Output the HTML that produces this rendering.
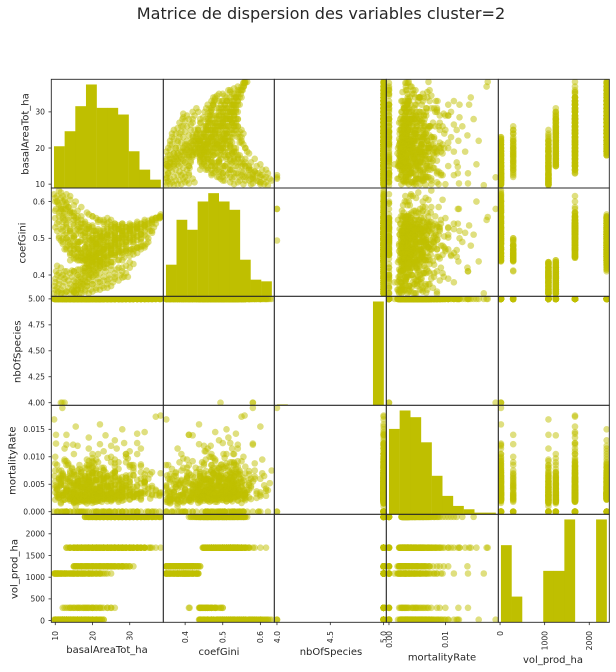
<!DOCTYPE html>
<html lang="fr">
<head>
<meta charset="utf-8">
<title>Matrice de dispersion</title>
<style>
html,body{margin:0;padding:0;background:#fff;}
svg{display:block;font-family:"DejaVu Sans","Liberation Sans",sans-serif;}
text{fill:#262626;}
</style>
</head>
<body>
<svg id="chart" width="616" height="672" viewBox="0 0 616 672" xmlns="http://www.w3.org/2000/svg">
<text x="321" y="19" font-size="16.1" text-anchor="middle">Matrice de dispersion des variables cluster=2</text>
<text x="107" y="653" font-size="10" text-anchor="middle">basalAreaTot_ha</text>
<text x="219" y="655" font-size="10" text-anchor="middle">coefGini</text>
<text x="331" y="655" font-size="10" text-anchor="middle">nbOfSpecies</text>
<text x="442" y="660.5" font-size="10" text-anchor="middle">mortalityRate</text>
<text x="553" y="663" font-size="10" text-anchor="middle">vol_prod_ha</text>
<text transform="translate(28.5 134) rotate(-90)" font-size="10" text-anchor="middle">basalAreaTot_ha</text>
<text transform="translate(25.5 243) rotate(-90)" font-size="10" text-anchor="middle">coefGini</text>
<text transform="translate(20.5 351.7) rotate(-90)" font-size="10" text-anchor="middle">nbOfSpecies</text>
<text transform="translate(15.5 460.7) rotate(-90)" font-size="10" text-anchor="middle">mortalityRate</text>
<text transform="translate(17.5 569) rotate(-90)" font-size="10" text-anchor="middle">vol_prod_ha</text>
</svg>
<script>
// ---- observations (each line holds ten rows, aligned across the five columns) ----
const basalAreaTot = [
9.65,10.5,11.5,12.5,13.5,14.5,15.5,17,18.5,20,
10,10.8,11.6,12.4,13.5,14.8,16,17.5,19,21,
10.2,11,12,13,14,15.5,17,18.5,20,22,
10,11,12,13,14.5,16,17.5,19,21,23,
11,11.5,12,12.5,13,13.5,14,15,16.5,18,
11.9,12.5,11.5,12,13,14,15,16,17,18.5,
10,10.5,11,12,13,14.5,16,18,20,22,
12,13.5,15,16,17,18,19,20,21,22,
13,14.5,16,17.5,18.5,20,22,24,25,26,
9.8,10.5,11.5,13,14.5,16,17.5,19,21,23,
10,11,12.5,14,15.5,17,19,20.5,22,25,
10.2,11,12,13,14.5,16,17.5,19,21,22.5,
9.7,10.5,11.5,12.5,14,15,16,17,18.5,20,
15,16.5,18,19.5,21,22.5,24,25.5,27,28.5,
15.5,17,18.5,20,21.5,23,24.5,26,28,30,
16,17.5,19,20.5,22,23.5,25,27,29,31,
15,16,17,18.5,20,22,24,26,28,29.5,
17,19,21,23,25,27,29,31,32.5,34,
14,16,18.5,21,23.5,26,28.5,31,33,35.5,
20,22.5,25,27.5,30,32,34,35.5,37,38.3,
13,15,17,19,21,23,25,27,29,30.5,
14,15.5,17,18.5,20,21.5,23,25,26.5,28,
13,14,15,16,17.5,19,20.5,22,24,26,
16,17.5,19,20.5,22,24,26,28,30,32,
24,25,26,27,28,29,30,31,32,33,
15,16.5,18,20,22,24,26,28,30,33,
18,19.5,21,23,25,27,28.5,30,31,32,
18.5,20,22,24,26,28,30,32,33,34.5,
19,21,23,25,27,29,31,33,34.5,36,
19,21,23,25,27,29,31,33,35,36.5,
20,22,24,26,28,30,32,34,36,38,
21,23,25,27,29,31,33,35,37,38.3,
24,26,28,30,32,34,36,37,38,38.3,
22,23,24.5,26,27.5,29,30.5,32,33.5,35,
18.5,19.5,20.5,21.5,23,24.5,26,27.5,29,31,
10.5,11.5,12.5,13.5,15,16.5,18,19.5,21,22.5,
10,11,12,13,14,15,16.5,18,19.5,21,
12,13,14,15,16,17,18,19,20,21.5,
10.5,11.5,12.5,13.5,14.5,16,17.5,19,20.5,22,
13,14,15,16,17,18,19,20,21,22.5,
10,10.5,11,11.5,12,12.5,13,14,15,16,
11,12,13,14,15.5,17,18.5,20,21.5,23,
12.5,14,15.5,16.5,17.5,18.5,19.5,20.5,21.5,23,
14,15,16.5,18,19,20,21,22.5,24,25,
10,11,12,13.5,15,16.5,18,19.5,21.5,23.5,
10.5,11.5,12.5,13.5,15,16.5,18,20,22,24,
10,10.8,11.8,13,14.5,15.5,17,18,19.5,21,
10.5,11.5,12.5,14,15,16,17.5,19,20,22,
15.5,17,18.5,20,21.5,23,24.5,26,27.5,29,
16,17.5,19,20.5,22,23.5,25,26.5,28,30,
15,16.5,18,19.5,21,22.5,24,25.5,27,28,
15.5,17,18,19,20,21,22,23,24,25,
15,17,19,21,23,25,27,29,31,33,
16,18,20,22,24,26,28,30,32,34,
14,15.5,17,18.5,20,21.5,23,24.5,26,28,
15,16,17,18,19,20,21.5,23,24.5,26,
19,20,21,22,23,24,25,26,27,28,
18,19.5,21,22.5,24,25.5,27,28.5,30,32,
20,21.5,23,24.5,26,27.5,29,30.5,32,34,
27,28,29,30,31,32,33,34,35,36,
13.5,15,16.5,18,19.5,21,22.5,24,25.5,27,
18,19,20.5,22,24,26,28,29.5,31,33,
18,19.5,21,23,25,27,29,31,33,35,
19,20.5,22,24,26,28,30,32,34,36,
20,21.5,23,25,27,29,31,33,35,37,
21,22.5,24,26,28,30,32,34,36,38,
22,24,26,28,30,32,34,36,37,38,
19,20,21,22,23,24,25,26,27,28,
25,26,27,28,29,30,31,32,33,34,
20,21,22,23,24,25,26,27,28,29
];
const coefGini = [
.62,.615,.61,.60,.585,.57,.555,.54,.525,.51,
.60,.595,.585,.57,.555,.54,.525,.51,.50,.485,
.58,.57,.555,.54,.525,.51,.495,.485,.475,.47,
.555,.545,.53,.515,.50,.485,.47,.46,.455,.45,
.63,.625,.615,.605,.595,.585,.57,.55,.53,.515,
.58,.58,.494,.52,.50,.485,.47,.46,.45,.445,
.53,.52,.505,.49,.475,.46,.45,.44,.44,.437,
.50,.49,.48,.47,.46,.455,.45,.445,.44,.437,
.41,.412,.44,.445,.45,.455,.46,.465,.47,.48,
.37,.365,.36,.355,.358,.365,.375,.39,.405,.42,
.39,.385,.38,.375,.38,.39,.40,.41,.42,.435,
.41,.405,.40,.395,.395,.40,.41,.42,.43,.435,
.35,.349,.35,.35,.349,.352,.36,.37,.38,.395,
.355,.35,.355,.36,.365,.37,.375,.38,.385,.395,
.37,.375,.38,.385,.39,.395,.40,.405,.41,.42,
.40,.405,.41,.415,.42,.42,.425,.42,.425,.43,
.355,.36,.365,.37,.375,.38,.385,.39,.393,.395,
.447,.45,.452,.455,.458,.462,.466,.47,.475,.48,
.47,.475,.48,.485,.49,.495,.50,.505,.512,.52,
.50,.505,.51,.515,.52,.528,.535,.542,.55,.558,
.50,.505,.51,.515,.52,.525,.525,.53,.53,.535,
.615,.60,.585,.57,.56,.55,.54,.53,.525,.52,
.58,.57,.56,.55,.54,.53,.52,.51,.505,.50,
.535,.53,.525,.52,.515,.51,.51,.51,.515,.52,
.555,.55,.54,.535,.535,.53,.53,.53,.535,.54,
.47,.47,.475,.48,.485,.49,.495,.50,.50,.51,
.41,.415,.42,.428,.435,.442,.448,.452,.456,.46,
.43,.435,.44,.447,.455,.462,.468,.474,.478,.485,
.45,.456,.462,.468,.475,.482,.49,.497,.505,.515,
.47,.476,.482,.488,.495,.502,.51,.518,.525,.53,
.49,.495,.50,.505,.51,.518,.525,.535,.545,.555,
.51,.515,.52,.525,.53,.535,.54,.548,.555,.565,
.53,.535,.54,.54,.545,.55,.553,.556,.558,.56,
.44,.445,.45,.455,.46,.465,.47,.475,.48,.49,
.43,.44,.45,.46,.47,.48,.49,.50,.505,.51,
.60,.58,.565,.55,.535,.52,.505,.495,.485,.475,
.575,.56,.545,.53,.515,.50,.49,.475,.465,.46,
.60,.59,.575,.56,.545,.53,.515,.505,.495,.49,
.54,.525,.51,.495,.48,.47,.46,.45,.445,.44,
.62,.605,.59,.575,.56,.545,.53,.52,.51,.50,
.61,.60,.59,.575,.56,.55,.535,.52,.505,.49,
.50,.485,.47,.455,.445,.44,.438,.45,.46,.47,
.47,.46,.45,.44,.438,.445,.455,.47,.48,.495,
.44,.445,.455,.465,.475,.485,.495,.50,.48,.46,
.38,.375,.37,.365,.37,.38,.385,.40,.415,.43,
.40,.395,.39,.385,.385,.395,.405,.415,.425,.432,
.36,.355,.352,.355,.36,.37,.38,.395,.405,.40,
.425,.42,.41,.405,.41,.415,.42,.43,.435,.43,
.35,.36,.37,.375,.38,.385,.39,.395,.40,.405,
.385,.39,.395,.40,.405,.41,.415,.415,.42,.435,
.41,.415,.42,.425,.43,.435,.43,.435,.44,.44,
.35,.35,.36,.35,.355,.36,.36,.365,.365,.37,
.455,.46,.465,.47,.475,.48,.485,.49,.495,.50,
.49,.495,.50,.505,.51,.515,.515,.52,.525,.53,
.52,.52,.52,.525,.535,.545,.55,.545,.54,.54,
.57,.56,.55,.54,.535,.53,.525,.52,.515,.51,
.565,.56,.555,.55,.545,.54,.535,.53,.525,.52,
.45,.455,.46,.465,.47,.475,.48,.485,.49,.495,
.447,.45,.45,.455,.46,.465,.47,.47,.475,.475,
.525,.52,.52,.525,.525,.53,.53,.535,.54,.54,
.48,.485,.49,.49,.495,.50,.505,.505,.50,.50,
.42,.425,.43,.435,.44,.45,.455,.46,.465,.47,
.44,.445,.45,.455,.46,.47,.475,.485,.49,.50,
.46,.465,.475,.48,.485,.49,.50,.505,.51,.52,
.48,.485,.49,.495,.50,.51,.515,.525,.53,.54,
.50,.505,.51,.515,.52,.525,.53,.54,.55,.56,
.52,.525,.53,.53,.535,.54,.545,.55,.555,.555,
.415,.425,.435,.44,.445,.45,.455,.46,.465,.47,
.47,.475,.48,.485,.49,.495,.50,.505,.51,.52,
.44,.45,.46,.47,.475,.48,.49,.50,.505,.51
];
const nbOfSpecies = [
5,5,5,5,5,5,5,5,5,5,
5,5,5,5,5,5,5,5,5,5,
5,5,5,5,5,5,5,5,5,5,
5,5,5,5,5,5,5,5,5,5,
5,5,5,5,5,5,5,5,5,5,
4,4,4,5,5,5,5,5,5,5,
5,5,5,5,5,5,5,5,5,5,
5,5,5,5,5,5,5,5,5,5,
5,5,5,5,5,5,5,5,5,5,
5,5,5,5,5,5,5,5,5,5,
5,5,5,5,5,5,5,5,5,5,
5,5,5,5,5,5,5,5,5,5,
5,5,5,5,5,5,5,5,5,5,
5,5,5,5,5,5,5,5,5,5,
5,5,5,5,5,5,5,5,5,5,
5,5,5,5,5,5,5,5,5,5,
5,5,5,5,5,5,5,5,5,5,
5,5,5,5,5,5,5,5,5,5,
5,5,5,5,5,5,5,5,5,5,
5,5,5,5,5,5,5,5,5,5,
5,5,5,5,5,5,5,5,5,5,
5,5,5,5,5,5,5,5,5,5,
5,5,5,5,5,5,5,5,5,5,
5,5,5,5,5,5,5,5,5,5,
5,5,5,5,5,5,5,5,5,5,
5,5,5,5,5,5,5,5,5,5,
5,5,5,5,5,5,5,5,5,5,
5,5,5,5,5,5,5,5,5,5,
5,5,5,5,5,5,5,5,5,5,
5,5,5,5,5,5,5,5,5,5,
5,5,5,5,5,5,5,5,5,5,
5,5,5,5,5,5,5,5,5,5,
5,5,5,5,5,5,5,5,5,5,
5,5,5,5,5,5,5,5,5,5,
5,5,5,5,5,5,5,5,5,5,
5,5,5,5,5,5,5,5,5,5,
5,5,5,5,5,5,5,5,5,5,
5,5,5,5,5,5,5,5,5,5,
5,5,5,5,5,5,5,5,5,5,
5,5,5,5,5,5,5,5,5,5,
5,5,5,5,5,5,5,5,5,5,
5,5,5,5,5,5,5,5,5,5,
5,5,5,5,5,5,5,5,5,5,
5,5,5,5,5,5,5,5,5,5,
5,5,5,5,5,5,5,5,5,5,
5,5,5,5,5,5,5,5,5,5,
5,5,5,5,5,5,5,5,5,5,
5,5,5,5,5,5,5,5,5,5,
5,5,5,5,5,5,5,5,5,5,
5,5,5,5,5,5,5,5,5,5,
5,5,5,5,5,5,5,5,5,5,
5,5,5,5,5,5,5,5,5,5,
5,5,5,5,5,5,5,5,5,5,
5,5,5,5,5,5,5,5,5,5,
5,5,5,5,5,5,5,5,5,5,
5,5,5,5,5,5,5,5,5,5,
5,5,5,5,5,5,5,5,5,5,
5,5,5,5,5,5,5,5,5,5,
5,5,5,5,5,5,5,5,5,5,
5,5,5,5,5,5,5,5,5,5,
5,5,5,5,5,5,5,5,5,5,
5,5,5,5,5,5,5,5,5,5,
5,5,5,5,5,5,5,5,5,5,
5,5,5,5,5,5,5,5,5,5,
5,5,5,5,5,5,5,5,5,5,
5,5,5,5,5,5,5,5,5,5,
5,5,5,5,5,5,5,5,5,5,
5,5,5,5,5,5,5,5,5,5,
5,5,5,5,5,5,5,5,5,5,
5,5,5,5,5,5,5,5,5,5
];
const mortalityRate = [
0,.0042,.0065,.0031,.0088,.0052,.0024,.0071,.0038,.0105,
.0035,0,.0075,.0048,.0028,.0122,.0056,.0019,.0082,.0041,
.0124,.0058,0,.0092,.0033,.0067,.0045,.0025,.0098,.0051,
.0100,.0062,.0034,0,.0078,.0047,.0021,.0115,.0058,.0036,
.0075,.0052,.0029,.0095,0,.0064,.0040,.0016,.0085,.0030,
.0189,0,0,.0070,.0044,.0023,.0105,.0060,.0032,.0054,
.0088,.0046,.0030,.0066,0,.0039,.0120,.0022,.0072,.0159,
.0030,.0055,.0018,.0075,0,.0045,.0023,.0090,.0062,.0123,
.0140,.0025,.0050,.0035,.0085,0,.0068,.0028,.0100,.0042,
.0065,.0040,.0015,.0085,.0028,0,.0050,.0020,.0095,.0035,
.0075,.0030,.0115,.0055,.0010,.0045,0,.0070,.0025,.0040,
.0140,.0060,.0035,0,.0080,.0020,.0052,.0092,.0030,.0044,
.0168,.0085,.0048,.0022,0,.0066,.0017,.0036,.0057,.0028,
.0035,.0018,.0060,.0028,.0078,0,.0045,.0022,.0090,.0052,
.0024,.0065,.0015,.0048,.0105,.0032,0,.0072,.0020,.0040,
.0055,.0030,.0085,.0018,.0042,.0139,.0026,0,.0062,.0036,
.0017,.0020,.0022,.0025,.0072,.0028,.0050,.0030,0,.0097,
.0026,.0070,.0038,.0110,.0021,.0056,0,.0085,.0033,.0145,
.0048,.0028,.0095,.0018,.0062,.0035,.0125,0,.0052,.0024,
.0042,.0080,.0030,.0058,.0022,.0105,.0037,.0068,.0173,.0175,
.0060,.0024,.0045,.0135,.0033,.0076,.0019,.0050,.0090,0,
.0038,.0155,.0060,.0026,.0082,.0044,.0030,0,.0115,.0055,
.0122,.0074,.0034,.0052,.0020,.0065,0,.0040,.0098,.0029,
.0028,.0044,.0070,.0031,.0058,.0023,.0088,.0046,.0036,.0125,
.0062,.0034,0,.0078,.0040,.0105,.0054,.0027,.0142,.0033,
.0020,.0056,.0039,.0092,.0026,.0048,.0072,.0032,0,.0083,
.0025,.0050,.0035,.0080,.0027,.0062,.0032,.0110,.0045,0,
.0042,.0022,.0068,.0030,.0095,.0026,.0055,0,.0036,.0075,
.0058,.0028,.0040,.0120,.0024,.0066,.0031,.0086,0,.0047,
.0033,.0070,.0023,.0052,.0036,.0105,.0028,.0060,.0044,0,
.0080,.0038,.0026,.0062,.0150,.0030,.0048,.0033,.0072,.0029,
.0024,.0056,.0090,.0034,.0043,.0027,.0115,.0060,0,.0035,
.0065,.0030,.0044,.0082,.0033,.0054,0,.0038,.0031,.0070,
.0028,.0046,.0032,.0074,.0025,.0100,.0041,.0058,.0034,0,
.0050,.0024,.0088,.0035,.0060,0,.0130,.0029,.0047,.0067,
.0028,.0055,0,.0038,.0072,.0024,.0046,.0033,0,.0062,
.0044,.0026,.0068,0,.0035,.0052,.0021,.0080,.0031,.0058,
.0060,.0037,.0023,.0049,0,.0075,.0029,.0041,.0066,0,
0,.0050,.0032,.0085,.0027,.0043,0,.0058,.0036,.0020,
.0039,.0070,.0025,.0047,.0030,0,.0063,.0022,.0054,.0034,
.0048,0,.0033,.0060,.0021,.0092,.0040,.0027,0,.0056,
.0026,.0065,.0042,0,.0030,.0055,.0078,.0036,.0023,0,
.0034,.0020,.0048,.0065,.0027,0,.0039,.0057,.0024,0,
.0052,.0032,0,.0042,.0022,.0070,.0030,0,.0047,.0060,
.0022,.0045,.0030,.0060,.0036,0,.0018,.0050,.0026,.0072,
.0040,.0017,.0056,.0028,0,.0034,.0065,.0021,.0046,.0031,
.0055,.0025,0,.0038,.0068,.0019,.0042,.0030,.0080,0,
.0032,.0048,.0022,.0062,.0037,.0026,0,.0054,.0016,.0044,
.0046,.0023,.0035,.0070,.0020,.0052,0,.0029,.0040,.0062,
.0030,.0058,.0019,.0042,.0026,0,.0067,.0034,.0050,.0023,
.0021,.0037,.0064,.0027,0,.0048,.0032,.0056,.0018,.0041,
.0033,0,.0026,.0044,.0020,.0058,.0036,0,.0024,.0050,
.0056,.0029,.0040,.0075,.0024,.0034,0,.0048,.0066,.0022,
.0035,.0062,.0025,.0045,.0019,.0082,.0038,.0030,0,.0054,
.0027,.0043,.0072,.0033,.0055,0,.0023,.0039,.0049,.0028,
.0068,.0031,.0046,.0021,.0058,.0036,.0090,.0026,0,.0041,
.0040,.0024,.0057,.0032,.0075,.0028,.0047,0,.0035,.0063,
.0025,.0052,.0034,.0018,.0044,.0070,.0030,.0022,.0060,0,
.0037,.0020,.0064,.0041,.0027,.0053,0,.0085,.0032,.0046,
.0059,.0035,.0028,.0049,0,.0038,.0024,.0068,.0033,.0043,
.0023,.0047,.0078,.0030,.0055,.0026,.0039,0,.0061,.0021,
.0030,.0054,.0022,.0038,.0065,.0026,0,.0045,.0033,.0072,
.0049,.0027,.0036,.0060,.0023,.0042,.0031,.0080,.0028,0,
.0024,.0040,.0068,.0029,.0050,0,.0035,.0026,.0056,.0032,
.0062,.0033,.0025,.0046,.0037,.0028,.0075,0,.0041,.0030,
.0036,.0058,.0031,.0024,.0043,.0066,.0029,.0052,0,.0034,
.0028,.0046,.0026,.0037,.0085,.0032,.0054,.0030,.0040,0,
.0053,.0023,.0042,.0034,.0028,.0060,.0036,0,.0048,.0026,
.0033,.0070,.0029,.0040,.0056,.0031,.0026,.0046,.0035,.0062,
.0045,.0027,.0038,.0052,.0024,.0033,.0064,.0030,0,.0041
];
const volProd = [
20,20,20,20,20,20,20,20,20,20,
20,20,20,20,20,20,20,20,20,20,
20,20,20,20,20,20,20,20,20,20,
20,20,20,20,20,20,20,20,20,20,
20,20,20,20,20,20,20,20,20,20,
20,20,20,20,20,20,20,20,20,20,
20,20,20,20,20,20,20,20,20,20,
295,295,295,295,295,295,295,295,295,295,
295,295,295,295,295,295,295,295,295,295,
1085,1085,1085,1085,1085,1085,1085,1085,1085,1085,
1085,1085,1085,1085,1085,1085,1085,1085,1085,1085,
1085,1085,1085,1085,1085,1085,1085,1085,1085,1085,
1085,1085,1085,1085,1085,1085,1085,1085,1085,1085,
1250,1250,1250,1250,1250,1250,1250,1250,1250,1250,
1250,1250,1250,1250,1250,1250,1250,1250,1250,1250,
1250,1250,1250,1250,1250,1250,1250,1250,1250,1250,
1250,1250,1250,1250,1250,1250,1250,1250,1250,1250,
1680,1680,1680,1680,1680,1680,1680,1680,1680,1680,
1680,1680,1680,1680,1680,1680,1680,1680,1680,1680,
1680,1680,1680,1680,1680,1680,1680,1680,1680,1680,
1680,1680,1680,1680,1680,1680,1680,1680,1680,1680,
1680,1680,1680,1680,1680,1680,1680,1680,1680,1680,
1680,1680,1680,1680,1680,1680,1680,1680,1680,1680,
1680,1680,1680,1680,1680,1680,1680,1680,1680,1680,
1680,1680,1680,1680,1680,1680,1680,1680,1680,1680,
1680,1680,1680,1680,1680,1680,1680,1680,1680,1680,
2390,2390,2390,2390,2390,2390,2390,2390,2390,2390,
2390,2390,2390,2390,2390,2390,2390,2390,2390,2390,
2390,2390,2390,2390,2390,2390,2390,2390,2390,2390,
2390,2390,2390,2390,2390,2390,2390,2390,2390,2390,
2390,2390,2390,2390,2390,2390,2390,2390,2390,2390,
2390,2390,2390,2390,2390,2390,2390,2390,2390,2390,
2390,2390,2390,2390,2390,2390,2390,2390,2390,2390,
2390,2390,2390,2390,2390,2390,2390,2390,2390,2390,
2390,2390,2390,2390,2390,2390,2390,2390,2390,2390,
20,20,20,20,20,20,20,20,20,20,
20,20,20,20,20,20,20,20,20,20,
20,20,20,20,20,20,20,20,20,20,
20,20,20,20,20,20,20,20,20,20,
20,20,20,20,20,20,20,20,20,20,
20,20,20,20,20,20,20,20,20,20,
20,20,20,20,20,20,20,20,20,20,
295,295,295,295,295,295,295,295,295,295,
295,295,295,295,295,295,295,295,295,295,
1085,1085,1085,1085,1085,1085,1085,1085,1085,1085,
1085,1085,1085,1085,1085,1085,1085,1085,1085,1085,
1085,1085,1085,1085,1085,1085,1085,1085,1085,1085,
1085,1085,1085,1085,1085,1085,1085,1085,1085,1085,
1250,1250,1250,1250,1250,1250,1250,1250,1250,1250,
1250,1250,1250,1250,1250,1250,1250,1250,1250,1250,
1250,1250,1250,1250,1250,1250,1250,1250,1250,1250,
1250,1250,1250,1250,1250,1250,1250,1250,1250,1250,
1680,1680,1680,1680,1680,1680,1680,1680,1680,1680,
1680,1680,1680,1680,1680,1680,1680,1680,1680,1680,
1680,1680,1680,1680,1680,1680,1680,1680,1680,1680,
1680,1680,1680,1680,1680,1680,1680,1680,1680,1680,
1680,1680,1680,1680,1680,1680,1680,1680,1680,1680,
1680,1680,1680,1680,1680,1680,1680,1680,1680,1680,
1680,1680,1680,1680,1680,1680,1680,1680,1680,1680,
1680,1680,1680,1680,1680,1680,1680,1680,1680,1680,
1680,1680,1680,1680,1680,1680,1680,1680,1680,1680,
2390,2390,2390,2390,2390,2390,2390,2390,2390,2390,
2390,2390,2390,2390,2390,2390,2390,2390,2390,2390,
2390,2390,2390,2390,2390,2390,2390,2390,2390,2390,
2390,2390,2390,2390,2390,2390,2390,2390,2390,2390,
2390,2390,2390,2390,2390,2390,2390,2390,2390,2390,
2390,2390,2390,2390,2390,2390,2390,2390,2390,2390,
2390,2390,2390,2390,2390,2390,2390,2390,2390,2390,
2390,2390,2390,2390,2390,2390,2390,2390,2390,2390,
2390,2390,2390,2390,2390,2390,2390,2390,2390,2390
];

// ---- histogram counts read from the diagonal ----
const basalHist = [25,34,49,62,48,48,44,22,11,5];
const giniHist = [19,46,40,57,62,57,52,22,10,9];
const speciesHist = [3,0,0,0,0,0,0,0,0,347];
const mortalityHist = [51,62,58,43,23,11,5,3,1,1];
const volHist = [240,80,0,0,160,160,320,0,0,320];

// ---- tick labels ----
const basalXTicks = ['10','20','30'];
const giniXTicks = ['0.4','0.5','0.6'];
const speciesXTicks = ['4.0','4.5','5.0'];
const mortalityXTicks = ['0.00','0.01'];
const volXTicks = ['0','1000','2000'];
const basalYTicks = ['10','20','30'];
const giniYTicks = ['0.4','0.5','0.6'];
const speciesYTicks = ['4.00','4.25','4.50','4.75','5.00'];
const mortalityYTicks = ['0.000','0.005','0.010','0.015'];
const volYTicks = ['0','500','1000','1500','2000'];

// ---- layout ----
const NS = 'http://www.w3.org/2000/svg';
const svg = document.getElementById('chart');
const colEdges = [51.3, 163.3, 274.3, 386.3, 498.3, 609.3];
const rowEdges = [79.3, 188, 296.3, 405.3, 514.3, 622.3];
const columns = [basalAreaTot, coefGini, nbOfSpecies, mortalityRate, volProd];
const hists = [basalHist, giniHist, speciesHist, mortalityHist, volHist];
const xTicks = [basalXTicks, giniXTicks, speciesXTicks, mortalityXTicks, volXTicks];
const yTicks = [basalYTicks, giniYTicks, speciesYTicks, mortalityYTicks, volYTicks];
const keys = ['basalareatot', 'coefgini', 'nbofspecies', 'mortalityrate', 'volprod'];
const extents = columns.map(function (c) { return [Math.min.apply(null, c), Math.max.apply(null, c)]; });
const limits = extents.map(function (e) { const d = (e[1] - e[0]) * 0.025; return [e[0] - d, e[1] + d]; });

function xScale(j, v) {
  const l = limits[j];
  return colEdges[j] + (v - l[0]) / (l[1] - l[0]) * (colEdges[j + 1] - colEdges[j]);
}
function yScale(i, v) {
  const l = limits[i];
  return rowEdges[i + 1] - (v - l[0]) / (l[1] - l[0]) * (rowEdges[i + 1] - rowEdges[i]);
}
function make(tag, attrs, parent) {
  const el = document.createElementNS(NS, tag);
  for (const k in attrs) el.setAttribute(k, attrs[k]);
  parent.appendChild(el);
  return el;
}

const defs = make('defs', {}, svg);
for (let i = 0; i < 5; i++) {
  for (let j = 0; j < 5; j++) {
    const cp = make('clipPath', { id: 'clip-' + i + '-' + j }, defs);
    make('rect', { x: colEdges[j], y: rowEdges[i], width: colEdges[j + 1] - colEdges[j], height: rowEdges[i + 1] - rowEdges[i] }, cp);
  }
}

for (let i = 0; i < 5; i++) {
  for (let j = 0; j < 5; j++) {
    const g = make('g', { 'clip-path': 'url(#clip-' + i + '-' + j + ')' }, svg);
    
    
    if (i === j) {
      const counts = hists[j];
      const top = Math.max.apply(null, counts) * 1.05;
      const h = rowEdges[i + 1] - rowEdges[i];
      const width = (extents[j][1] - extents[j][0]) / counts.length;
      counts.forEach(function (c, k) {
        if (!c) return;
        const x0 = xScale(j, extents[j][0] + k * width);
        const x1 = xScale(j, extents[j][0] + (k + 1) * width);
        const bh = c / top * h;
        const bar = make('rect', { x: x0, y: rowEdges[i + 1] - bh, width: x1 - x0 + 0.2, height: bh, fill: '#bfbf00' }, g);
        
        
      });
    } else {
      const xs = columns[j], ys = columns[i];
      for (let n = 0; n < xs.length; n++) {
        const pt = make('circle', { cx: xScale(j, xs[n]), cy: yScale(i, ys[n]), r: 3.3, fill: '#bfbf00', 'fill-opacity': 0.5 }, g);
        
        
      }
    }
  }
}

// spines
for (let i = 0; i < 5; i++) {
  for (let j = 0; j < 5; j++) {
    const frame = make('rect', { x: colEdges[j], y: rowEdges[i], width: colEdges[j + 1] - colEdges[j], height: rowEdges[i + 1] - rowEdges[i], fill: 'none', stroke: '#262626', 'stroke-width': 0.9 }, svg);
    
    
  }
}

// x ticks
const axisBottom = rowEdges[5];
xTicks.forEach(function (labels, j) {
  labels.forEach(function (lab) {
    const x = xScale(j, parseFloat(lab));
    const tick = make('line', { x1: x, x2: x, y1: axisBottom, y2: axisBottom + 2.8, stroke: '#262626', 'stroke-width': 0.8 }, svg);
    
    
    const t = make('text', { transform: 'translate(' + (x + 2.8) + ' 631) rotate(-90)', 'font-size': 7.6, 'text-anchor': 'end' }, svg);
    t.textContent = lab;
    
    
  });
});

// y ticks
yTicks.forEach(function (labels, i) {
  labels.forEach(function (lab) {
    const y = yScale(i, parseFloat(lab));
    const tick = make('line', { x1: colEdges[0] - 2.8, x2: colEdges[0], y1: y, y2: y, stroke: '#262626', 'stroke-width': 0.8 }, svg);
    
    
    const t = make('text', { x: 45, y: y + 2.8, 'font-size': 7.6, 'text-anchor': 'end' }, svg);
    t.textContent = lab;
    
    
  });
});
</script>
</body>
</html>
